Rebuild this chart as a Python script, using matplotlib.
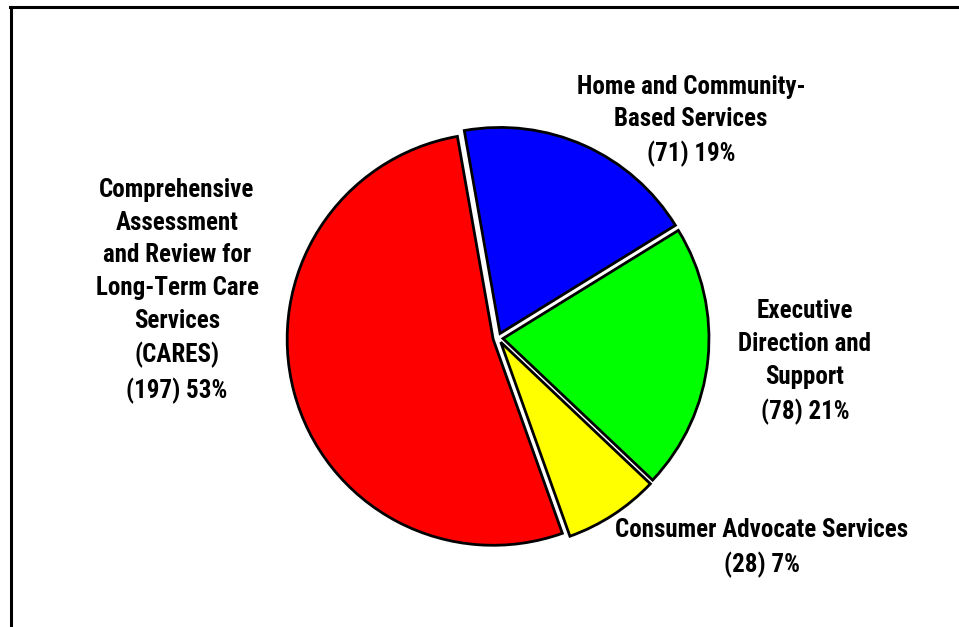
import matplotlib
matplotlib.use("Agg")
import matplotlib.pyplot as plt
from matplotlib.lines import Line2D
from matplotlib import font_manager

labels = ["Home and Community-\nBased Services",
          "Executive\nDirection and\nSupport",
          "Consumer Advocate Services",
          "Comprehensive\nAssessment\nand Review for\nLong-Term Care\nServices\n(CARES)"]
values = [71, 78, 28, 197]
percents = [19, 21, 7, 53]
colors = ["#0000FF", "#00FF00", "#FFFF00", "#FF0000"]

names = {f.name for f in font_manager.fontManager.ttflist}
fam = "DejaVu Sans"
for cand in ["Liberation Sans Narrow", "Arial Narrow", "Roboto Condensed",
             "PT Sans Narrow", "Archivo Narrow"]:
    if cand in names:
        fam = cand
        break

W, H = 959, 627
fig = plt.figure(figsize=(W / 100, H / 100), dpi=100)
ax = fig.add_axes([0, 0, 1, 1])

cx, cy, r = 498, H - 338, 206
ax.pie(values, colors=colors, startangle=100, counterclock=False,
       center=(cx, cy), radius=r, explode=[5] * 4,
       wedgeprops=dict(edgecolor="black", linewidth=2.0), frame=False)
ax.set_xlim(0, W)
ax.set_ylim(0, H)
ax.set_aspect("equal")
ax.axis("off")

pos = [(691, 121), (805, 362), (762, 548), (177, 291)]
for lab, v, p, (x, y) in zip(labels, values, percents, pos):
    ax.text(x, H - y, f"{lab}\n({v}) {p}%", ha="center", va="center",
            multialignment="center", fontsize=18, fontweight="bold",
            family=[fam, "DejaVu Sans"], linespacing=1.46)

fig.add_artist(Line2D([10 / W, 1], [1 - 7 / H, 1 - 7 / H], color="black", lw=2.2,
                      transform=fig.transFigure))
fig.add_artist(Line2D([11 / W, 11 / W], [0, 1 - 7 / H], color="black", lw=2.2,
                      transform=fig.transFigure))

fig.savefig("out.png", dpi=100)
